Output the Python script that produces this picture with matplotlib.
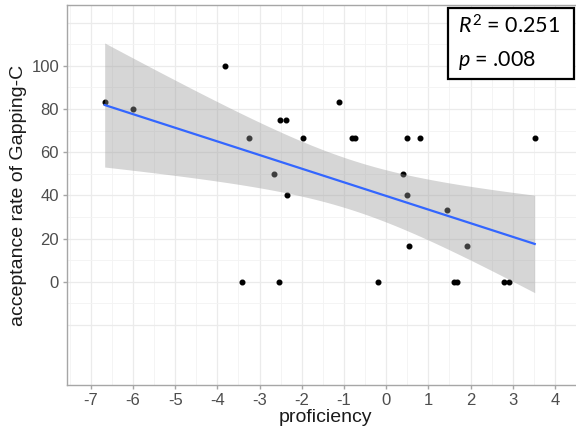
import numpy as np
import matplotlib.pyplot as plt
from matplotlib.patches import Rectangle

# proficiency scores and acceptance rates
proficiency = [-6.67, -6.0, -3.82, -3.26, -2.51, -2.37, -1.96, -2.66, -2.35,
               -1.11, -0.80, -0.73, 0.50, 0.81, 3.52, 0.39, 0.50, 1.45,
               0.53, 1.91, -3.42, -2.53, -0.19, 1.61, 1.69, 2.80, 2.91]
acceptance = [83.3, 80, 100, 66.7, 75, 75, 66.7, 50, 40,
              83.3, 66.7, 66.7, 66.7, 66.7, 66.7, 50, 40, 33.3,
              16.7, 16.7, 0, 0, 0, 0, 0, 0, 0]
x_ticks = [-7, -6, -5, -4, -3, -2, -1, 0, 1, 2, 3, 4]
y_ticks = [0, 20, 40, 60, 80, 100]
stats_lines = ["$R^2$ = 0.251", "$p$ = .008"]

plt.rcParams['mathtext.fontset'] = 'custom'
plt.rcParams['mathtext.rm'] = 'Lato'
plt.rcParams['mathtext.it'] = 'Lato:italic'

x = np.array(proficiency)
y = np.array(acceptance)
n = len(x)

# linear fit with 95% confidence band (like geom_smooth(method = "lm"))
slope, intercept = np.polyfit(x, y, 1)
xs = np.linspace(x.min(), x.max(), 80)
ys = intercept + slope * xs
resid = y - (intercept + slope * x)
s = np.sqrt(np.sum(resid**2) / (n - 2))
se = s * np.sqrt(1 / n + (xs - x.mean())**2 / np.sum((x - x.mean())**2))
t_crit = 2.0595  # t(0.975, df = 25)

fig = plt.figure(figsize=(5.76, 4.29), dpi=100)
ax = fig.add_axes([0.1158, 0.1026, 0.899, 0.885])

ax.scatter(x, y, s=11, color="black", zorder=3)
ax.fill_between(xs, ys - t_crit * se, ys + t_crit * se, color="#999999",
                alpha=0.4, linewidth=0, zorder=4)
ax.plot(xs, ys, color="#3366FF", linewidth=1.6, zorder=5)

ax.set_xlim(-7.57, 4.7)
ax.set_ylim(-47.8, 128)
ax.set_xticks(x_ticks)
ax.set_xticklabels([str(v) for v in x_ticks])
ax.set_yticks(y_ticks)
ax.set_yticklabels([str(v) for v in y_ticks])

# grid: majors and minors
for v in np.arange(-7.5, 5, 0.5):
    ax.axvline(v, color="#EBEBEB" if v == int(v) else "#F3F3F3",
               linewidth=0.9 if v == int(v) else 0.6, zorder=0)
for v in range(-20, 130, 10):
    ax.axhline(v, color="#EBEBEB" if v % 20 == 0 else "#F3F3F3",
               linewidth=0.9 if v % 20 == 0 else 0.6, zorder=0)

for side in ["left", "bottom", "top"]:
    ax.spines[side].set_color("#A6A6A6")
    ax.spines[side].set_linewidth(1.0)
ax.spines["right"].set_visible(False)

ax.tick_params(colors="#A6A6A6", labelcolor="#4D4D4D", length=3, width=1,
               labelsize=12, pad=2.5)
for lab in ax.get_xticklabels() + ax.get_yticklabels():
    lab.set_family("Liberation Sans")

ax.set_xlabel("proficiency", fontsize=14, family="Liberation Sans",
              color="#1A1A1A", labelpad=1)
ax.set_ylabel("acceptance rate of Gapping-C", fontsize=14,
              family="Liberation Sans", color="#1A1A1A", labelpad=3)

# stats box in the top right corner
fig.patches.append(Rectangle((448.3 / 576, 1 - 79 / 429), 126 / 576, 71.5 / 429,
                             transform=fig.transFigure, facecolor="white",
                             edgecolor="black", linewidth=1.6, zorder=10))
fig.text(458 / 576, 1 - 33 / 429, stats_lines[0], fontsize=15.5, family="Lato",
         va="baseline", zorder=11)
fig.text(458 / 576, 1 - 66 / 429, stats_lines[1], fontsize=15.5, family="Lato",
         va="baseline", zorder=11)

fig.savefig("out.png", dpi=100)
